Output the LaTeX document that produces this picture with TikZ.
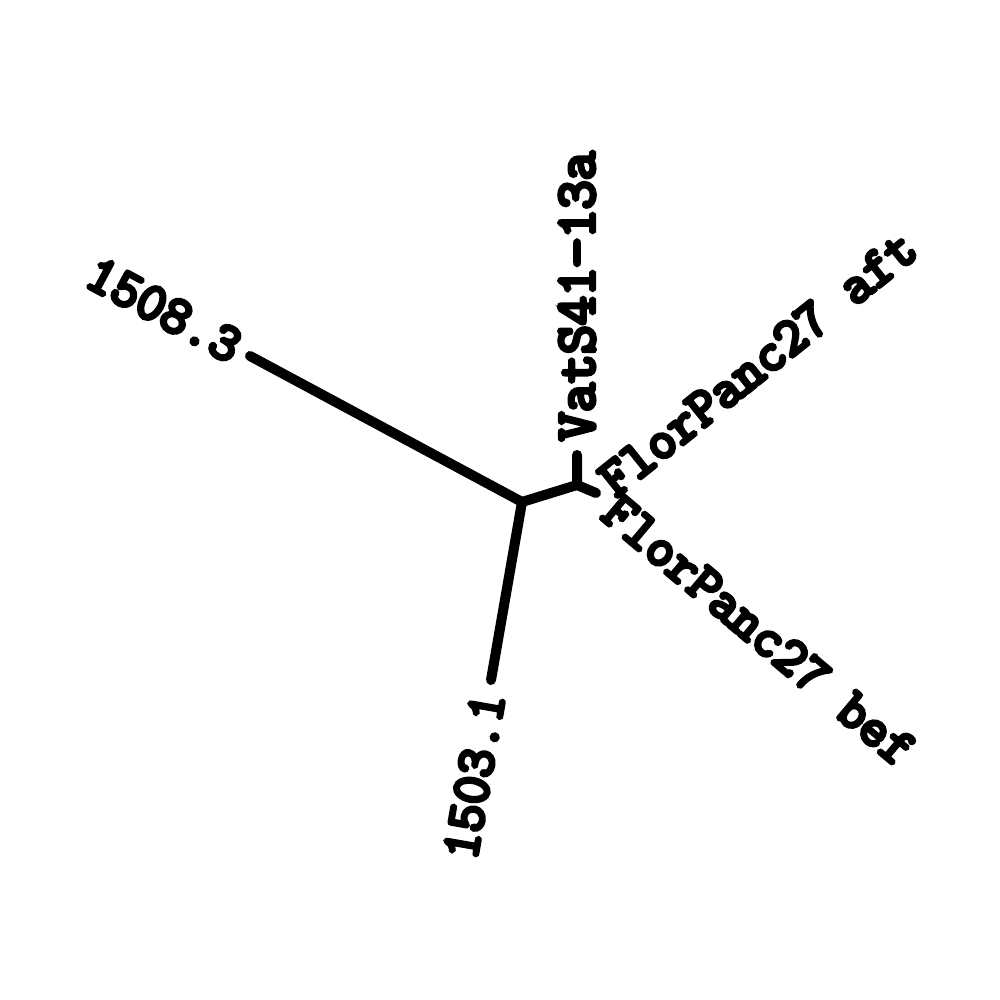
\documentclass[tikz,border=0pt]{standalone}
\usepackage{fontspec}
\newfontfamily\labfont{Latin Modern Mono}[FakeBold=7]
\tikzset{
  branch/.style={line width=2.85pt, line cap=round, line join=round},
  tiplabel/.style={font=\labfont\fontsize{15.4}{18}\selectfont, inner ysep=0pt, outer sep=0pt}
}
\begin{document}
\begin{tikzpicture}[x=1cm,y=1cm]
\useasboundingbox (0,0) rectangle (10,10);
\coordinate (A) at (5.22,4.98);
\coordinate (B) at (5.77,5.15);
\coordinate (t1) at (2.50,6.44);
\coordinate (t2) at (4.91,3.20);
\coordinate (t3) at (5.77,5.45);
\coordinate (t4) at (5.96,5.07);
\draw[branch] (t1) -- (A) -- (t2);
\draw[branch] (A) -- (B) -- (t3);
\draw[branch] (B) -- (t4);
\node[tiplabel, anchor=east, rotate=-28.3, inner xsep=0.14cm] (l1) at (t1) {1508.3};
\node[tiplabel, anchor=east, rotate=80.1, inner xsep=0.14cm] (l2) at (t2) {1503.1};
\node[tiplabel, anchor=west, rotate=90, inner xsep=0.14cm, font=\labfont\fontsize{16}{18}\selectfont] (l3) at (t3) {VatS41−13a};
\node[tiplabel, anchor=west, rotate=38.7, inner xsep=0.12cm] (l4) at (t4) {FlorPanc27 aft};
\node[tiplabel, anchor=west, rotate=-40.1, inner xsep=0.18cm] (l5) at (t4) {FlorPanc27 bef};
\end{tikzpicture}
\end{document}
